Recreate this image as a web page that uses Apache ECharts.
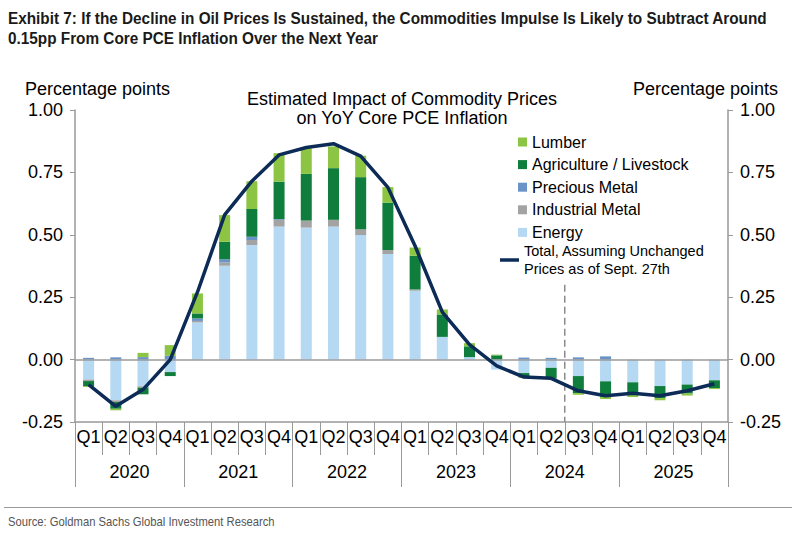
<!DOCTYPE html>
<html>
<head>
<meta charset="utf-8">
<script src="https://cdn.jsdelivr.net/npm/echarts@6/dist/echarts.min.js"></script>
<style>
html,body{margin:0;padding:0;background:#fff;}
#chart{width:797px;height:534px;}
</style>
</head>
<body>
<div id="chart"></div>
<script>
var quarters = ['Q1','Q2','Q3','Q4','Q1','Q2','Q3','Q4','Q1','Q2','Q3','Q4','Q1','Q2','Q3','Q4','Q1','Q2','Q3','Q4','Q1','Q2','Q3','Q4'];
var years = ['2020','2021','2022','2023','2024','2025'];
var yTicks = [-0.25, 0, 0.25, 0.5, 0.75, 1.0];

var energy = [-0.080,-0.163,-0.107,-0.050, 0.149,0.376,0.459,0.533, 0.529,0.533,0.499,0.423, 0.276,0.091,0.010,-0.040, -0.054,-0.033,-0.066,-0.087, -0.091,-0.106,-0.100,-0.083];
var industrialMetal = [-0.006,-0.007,-0.005,0, 0.006,0.013,0.020,0.027, 0.028,0.027,0.023,0.016, 0.005,0,0,0, 0,0,0,0, 0,0,0,0];
var preciousMetal = [0.007,0.009,0.010,0.015, 0.010,0.013,0.013,0.003, 0,0,0,0, 0,0,0,0, 0.008,0.007,0.009,0.013, 0,0,0,0];
var agriculture = [-0.020,-0.027,-0.027,-0.016, 0.020,0.070,0.111,0.150, 0.187,0.207,0.209,0.190, 0.135,0.090,0.043,0.017, -0.016,-0.043,-0.068,-0.063, -0.050,-0.048,-0.036,-0.031];
var lumber = [-0.004,-0.006,0.017,0.043, 0.080,0.107,0.112,0.114, 0.103,0.087,0.086,0.062, 0.033,0.020,0.013,0.003, -0.003,0,-0.007,-0.008, -0.009,-0.009,-0.008,-0.004];
var total = [-0.100,-0.187,-0.120,0.000, 0.270,0.580,0.715,0.820, 0.850,0.865,0.815,0.690, 0.455,0.190,0.060,-0.025, -0.070,-0.075,-0.125,-0.145, -0.135,-0.145,-0.125,-0.097];
var forecastStart = 18;   // boundary between Q2 2024 and Q3 2024 (category index)
var dashedFrom = 0.30;

var exhibitLines = ['Exhibit 7: If the Decline in Oil Prices Is Sustained, the Commodities Impulse Is Likely to Subtract Around',
                    '0.15pp From Core PCE Inflation Over the Next Year'];
var sourceText = 'Source: Goldman Sachs Global Investment Research';

var sans = '"Liberation Sans", Arial, sans-serif';

// horizontal condensing factor to mimic the condensed header font
function measure(text, font) {
  var c = document.createElement('canvas').getContext('2d');
  c.font = font;
  return c.measureText(text).width;
}
var titleFont = 'bold 17px "Liberation Sans"';
var titleScale = 760 / measure(exhibitLines[0], titleFont);
var srcFont = '13px "Liberation Sans"';
var srcScale = 267 / measure(sourceText, srcFont);

var chart = echarts.init(document.getElementById('chart'), null, {renderer:'svg'});

function bar(name, data, color) {
  return {name:name, type:'bar', stack:'c', data:data, barWidth:11,
    itemStyle:{color:color}, emphasis:{disabled:true}, xAxisIndex:0, yAxisIndex:0};
}
var eS = bar('Energy', energy, '#b5d8f3');
eS.markLine = {silent:true, symbol:'none', label:{show:false},
  lineStyle:{color:'#9a9a9a', width:1.5, type:'solid'}, data:[{yAxis:0}]};

var option = {
  animation:false,
  textStyle:{fontFamily:sans},
  title:[
    {text:'Estimated Impact of Commodity Prices\non YoY Core PCE Inflation', left:397, top:84, textAlign:'center',
     textStyle:{fontFamily:sans, fontWeight:'normal', fontSize:18, lineHeight:19, color:'#000'}},
    {text:'Percentage points', left:20, top:75, textStyle:{fontFamily:sans, fontWeight:'normal', fontSize:18, color:'#000'}},
    {text:'Percentage points', right:14, top:75, textStyle:{fontFamily:sans, fontWeight:'normal', fontSize:18, color:'#000'}}
  ],
  legend:[
    {data:['Lumber','Agriculture / Livestock','Precious Metal','Industrial Metal','Energy'],
     orient:'vertical', left:518, top:133, padding:0, itemWidth:9, itemHeight:9, itemGap:4.6, icon:'rect',
     textStyle:{fontFamily:sans, fontSize:16, lineHeight:18, color:'#000'}, selectedMode:false},
    {data:[{name:'Total', icon:'rect'}], orient:'vertical', left:500, top:242, padding:0, itemWidth:19, itemHeight:3.5,
     formatter:function(){return 'Total, Assuming Unchanged\nPrices as of Sept. 27th';},
     textStyle:{fontFamily:sans, fontSize:14.5, lineHeight:18, color:'#000'}, selectedMode:false}
  ],
  grid:{left:75, right:69, top:110, bottom:112, containLabel:false},
  xAxis:[
    {type:'category', data:quarters, position:'bottom', boundaryGap:true,
     axisLine:{onZero:false, lineStyle:{color:'#999', width:1.5}},
     axisTick:{show:true, length:33, lineStyle:{color:'#999'}},
     axisLabel:{margin:6, fontSize:18, color:'#000', fontFamily:sans, interval:0}},
    {type:'category', data:years, position:'bottom', boundaryGap:true,
     axisLine:{show:false, onZero:false},
     axisTick:{show:true, length:65, lineStyle:{color:'#999'}},
     axisLabel:{margin:41, fontSize:18, color:'#000', fontFamily:sans}},
    {type:'value', min:0, max:24, show:false}
  ],
  yAxis:[
    {type:'value', min:-0.25, max:1, interval:0.25, position:'left',
     axisLine:{show:true, lineStyle:{color:'#999', width:1.5}},
     axisTick:{show:true, length:5, lineStyle:{color:'#999'}},
     splitLine:{show:false},
     axisLabel:{margin:12, fontSize:18, color:'#000', fontFamily:sans, formatter:function(v){return v.toFixed(2);}}},
    {type:'value', min:-0.25, max:1, interval:0.25, position:'right',
     axisLine:{show:true, lineStyle:{color:'#999', width:1.5}},
     axisTick:{show:true, length:5, lineStyle:{color:'#999'}},
     splitLine:{show:false},
     axisLabel:{margin:12, fontSize:18, color:'#000', fontFamily:sans, formatter:function(v){return v.toFixed(2);}}}
  ],
  series:[
    eS,
    bar('Industrial Metal', industrialMetal, '#a3a3a3'),
    bar('Precious Metal', preciousMetal, '#6a93c8'),
    bar('Agriculture / Livestock', agriculture, '#0f7d3c'),
    bar('Lumber', lumber, '#8cc543'),
    {name:'Forecast', type:'line', xAxisIndex:2, yAxisIndex:0, silent:true, showSymbol:false, symbol:'none',
     data:[[forecastStart, dashedFrom],[forecastStart, yTicks[0]]],
     lineStyle:{color:'#8a8a8a', width:1.5, type:[7,4]}},
    {name:'Total', type:'line', data:total, xAxisIndex:0, yAxisIndex:0, showSymbol:false, symbol:'none',
     lineStyle:{color:'#0d2b57', width:3.5}, itemStyle:{color:'#0d2b57'}, z:5}
  ],
  graphic:[
    {type:'text', x:8, y:8, scaleX:titleScale, style:{text:exhibitLines[0] + '\n' + exhibitLines[1],
      font:titleFont, lineHeight:20, fill:'#1a1a1a', textVerticalAlign:'top'}},
    {type:'text', x:8, y:515, scaleX:srcScale, style:{text:sourceText, font:srcFont, fill:'#555'}},
    {type:'line', shape:{x1:4, y1:507.5, x2:792, y2:507.5}, style:{stroke:'#9a9a9a', lineWidth:1}}
  ]
};
chart.setOption(option);
</script>
</body>
</html>
